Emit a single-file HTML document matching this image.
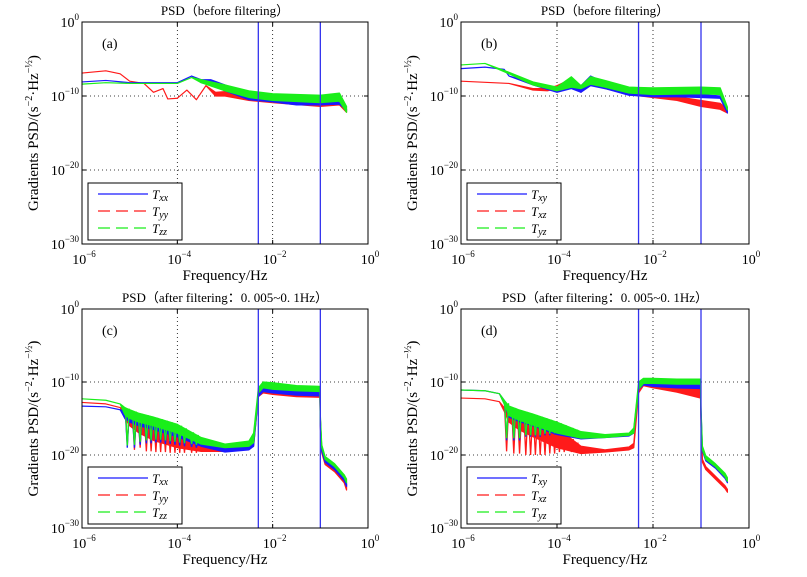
<!DOCTYPE html>
<html><head><meta charset="utf-8"><style>
html,body{margin:0;padding:0;background:#fff;}
svg{display:block;font-family:"Liberation Serif",serif;}
</style></head><body>
<svg id="fig" width="807" height="577" viewBox="0 0 807 577" xmlns="http://www.w3.org/2000/svg"></svg>
<script>
// ---- data: log10(frequency) and log10(PSD) lower/upper envelopes ----
const aBlueF=[-6,-5.5,-5,-4.5,-4,-3.7,-3.5,-3.3,-3,-2.5,-2,-1.5,-1,-0.6,-0.45];
const aBlueLo=[-8.1,-7.9,-8.2,-8.2,-8.2,-7.3,-8.2,-8.5,-9.3,-10.5,-10.8,-11.2,-11.2,-11.1,-11.9];
const aBlueHi=[-8.1,-7.9,-8.2,-8.2,-8.2,-7.3,-7.8,-7.8,-8.5,-9.8,-10.3,-10.8,-10.8,-10.8,-11.8];
const aRedF=[-6,-5.5,-5.2,-5,-4.7,-4.5,-4.3,-4.2,-4,-3.8,-3.6,-3.4,-3.2,-3,-2.5,-2,-1,-0.6,-0.45];
const aRedLo=[-6.9,-6.6,-7,-8,-8.3,-9.5,-9,-10.4,-10.3,-9.2,-10.5,-8.6,-10,-10,-10.6,-10.9,-11.4,-11.2,-12.2];
const aRedHi=[-6.9,-6.6,-7,-8,-8.3,-9.5,-9,-10.4,-10.3,-9.2,-10.5,-8.6,-9.5,-9.4,-10.1,-10.4,-10.9,-10.8,-11.9];
const aGreenF=[-6,-5.5,-5,-4,-3.7,-3.5,-3,-2.5,-2,-1,-0.6,-0.45];
const aGreenLo=[-8.4,-8.2,-8.3,-8.3,-7.5,-8.2,-9.3,-10.2,-10.6,-10.9,-10.7,-12.2];
const aGreenHi=[-8.4,-8.2,-8.3,-8.3,-7.5,-7.8,-8.5,-9.3,-9.7,-9.9,-9.6,-11.4];

const bBlueF=[-6,-5.5,-5.1,-5,-4.5,-4,-3.7,-3.5,-3.3,-3,-2.5,-2,-1.5,-1,-0.6,-0.45];
const bBlueLo=[-6.3,-6.1,-6.4,-7.3,-8.5,-9.5,-9,-9.5,-8.6,-9,-9.9,-10.1,-10.1,-10.2,-10.3,-12.3];
const bBlueHi=[-6.3,-6.1,-6.4,-7.3,-8.2,-9,-8.4,-8.6,-7.3,-8.2,-9.6,-9.8,-9.7,-9.8,-10,-11.9];
const bRedF=[-6,-5,-4.5,-4.2,-4,-3.7,-3.5,-3.3,-3,-2.5,-2,-1.5,-1,-0.6,-0.45];
const bRedLo=[-8,-8.3,-9.2,-9.3,-9,-8,-9.5,-8,-9,-9.8,-10.2,-10.6,-11.4,-11.8,-12.3];
const bRedHi=[-8,-8.3,-9,-9,-8.6,-7.7,-9,-7.6,-8.6,-9.5,-10,-10.1,-10.6,-11,-11.8];
const bGreenF=[-6,-5.5,-5,-4.5,-4,-3.7,-3.5,-3.3,-3,-2.5,-2,-1,-0.6,-0.45];
const bGreenLo=[-5.8,-5.6,-7,-8.5,-9.3,-8.8,-9,-8.4,-8.8,-9.6,-9.8,-9.7,-9.8,-11.9];
const bGreenHi=[-5.8,-5.6,-6.8,-8.1,-8.8,-7.4,-8.6,-7.4,-7.9,-8.8,-8.9,-8.8,-8.9,-11.5];

const cF=[-6,-5.5,-5.2,-5.1,-5,-4.8,-4.5,-4,-3.5,-3,-2.5,-2.4,-2.3,-2.2,-2,-1.5,-1.01,-1,-0.97,-0.9,-0.7,-0.5,-0.45];
const cBlueLo=[-13.3,-13.4,-13.8,-15,-15.5,-16,-16.5,-17.5,-18.8,-19.6,-19.3,-18.8,-12,-11.3,-11.5,-11.8,-11.9,-16,-19.5,-21,-22,-23.5,-24.3];
const cBlueHi=[-13.3,-13.4,-13.8,-14,-14.5,-15,-15.5,-16.5,-18.3,-18.8,-18.5,-17.5,-11.5,-10.8,-10.8,-11.2,-11.3,-15,-19,-20.5,-21.6,-23.1,-23.8];
const cRedLo=[-12.8,-13,-13.5,-15,-16,-17,-18,-19,-19.5,-19.5,-19.2,-18.8,-12,-11.5,-11.7,-12,-12.1,-16,-19.7,-21.3,-22.3,-23.8,-24.8];
const cRedHi=[-12.8,-13,-13.5,-13.8,-14.2,-14.7,-15.3,-16.3,-18,-18.8,-18.4,-17.5,-11.3,-10.6,-10.7,-11,-11.1,-15,-19.2,-20.8,-21.8,-23.3,-24];
const cGreenLo=[-12.3,-12.5,-13,-14.5,-15,-15.5,-16,-17,-18.5,-19,-18.8,-18.3,-11.5,-10.8,-11,-11.2,-11.3,-15.5,-19,-20.6,-21.6,-23.1,-23.8];
const cGreenHi=[-12.3,-12.5,-13,-13.5,-13.8,-14.3,-14.8,-15.8,-17.6,-18.5,-18.1,-17,-10.8,-10,-10.1,-10.5,-10.6,-14.5,-18.6,-20.2,-21.2,-22.7,-23.3];
const cDipF=[-5.05,-4.9,-4.78,-4.65,-4.55,-4.45,-4.35,-4.25,-4.15,-4.05,-3.95,-3.85,-3.7,-3.6];
const cDipBlue=[-19,-19,-18.6,-18.4,-18.4,-18.3,-18.3,-18.5,-18.5,-18.6,-18.7,-18.8,-18.9,-19];
const cDipRed=[-18.5,-19.3,-19,-19.5,-19.5,-19.6,-19.6,-19.6,-19.7,-19.7,-19.7,-19.7,-19.7,-19.7];
const cDipGreen=[-18.7,-18.6,-18.2,-18,-18,-17.9,-17.9,-18,-18.1,-18.2,-18.3,-18.4,-18.5,-18.6];

const dF=[-6,-5.5,-5.2,-5.1,-5,-4.8,-4.5,-4,-3.5,-3,-2.5,-2.4,-2.3,-2.2,-2,-1.5,-1.01,-1,-0.97,-0.9,-0.7,-0.5,-0.45];
const dBlueLo=[-11.1,-11.2,-11.6,-13,-14.8,-15.4,-16,-17.2,-17.8,-17.6,-17.4,-17,-11,-10.4,-10.6,-10.8,-10.9,-15,-19.5,-20.8,-21.8,-23.2,-23.8];
const dBlueHi=[-11.1,-11.2,-11.6,-12.5,-13.5,-14,-14.6,-15.8,-17,-17.3,-17.1,-16.5,-10.5,-10,-10.1,-10.2,-10.2,-14,-19,-20.3,-21.4,-22.8,-23.4];
const dRedLo=[-12.2,-12.3,-12.7,-14,-15.5,-16.5,-17.5,-19,-19.8,-19.6,-19.3,-19,-11.5,-10.5,-10.8,-11.4,-12.2,-16,-21,-22,-23.3,-24.6,-25.1];
const dRedHi=[-12.2,-12.3,-12.7,-13.5,-14,-14.5,-15,-16.3,-18.8,-19.3,-18.9,-18.4,-11,-10.2,-10.3,-10.6,-11,-15,-20.6,-21.6,-22.9,-24.2,-24.7];
const dGreenLo=[-11.1,-11.2,-11.6,-13,-14.6,-15.2,-15.9,-17,-17.7,-17.6,-17.3,-17,-11,-10.2,-10.2,-10.3,-10.3,-14.5,-19.3,-20.6,-21.6,-23,-23.6];
const dGreenHi=[-11.1,-11.2,-11.6,-12.5,-13.3,-13.8,-14.4,-15.5,-16.8,-17.2,-17,-16.3,-10,-9.5,-9.5,-9.6,-9.6,-13.5,-18.8,-20.1,-21.2,-22.5,-23.1];
const dDipF=[-5.05,-4.9,-4.78,-4.65,-4.55,-4.45,-4.35,-4.25,-4.15,-4.05,-3.95,-3.85,-3.7,-3.6];
const dDipBlue=[-18,-18,-18,-17.5,-17.5,-17.5,-17.5,-17.3,-17.3,-17.2,-17,-17,-17,-17];
const dDipRed=[-19.5,-19.8,-19.8,-20,-20,-20,-20,-20,-19.8,-19.8,-19.6,-19.6,-19.6,-19.5];
const dDipGreen=[-17.7,-17.7,-17.7,-17.3,-17.3,-17.3,-17.3,-17.1,-17.1,-17,-16.9,-16.9,-16.9,-16.9];

const vLines=[Math.log10(0.005),Math.log10(0.1)];
const xTicks=[-6,-4,-2,0];
const yTicks=[0,-10,-20,-30];

const NS="http://www.w3.org/2000/svg";
const fig=document.getElementById('fig');
function mk(tag,attrs,parent){const e=document.createElementNS(NS,tag);for(const k in attrs)e.setAttribute(k,attrs[k]);(parent||fig).appendChild(e);return e;}
function interp(f,v,x){for(let k=0;k<f.length-1;k++){if(x>=f[k]&&x<=f[k+1]){const t=(x-f[k])/(f[k+1]-f[k]);return v[k]+t*(v[k+1]-v[k]);}}return v[v.length-1];}

const panels=[
 {id:'a',x:82,y:22,w:286,h:222,title:'PSD（before filtering）',names:['xx','yy','zz'],
  s:[[aBlueF,aBlueLo,aBlueHi],[aRedF,aRedLo,aRedHi],[aGreenF,aGreenLo,aGreenHi]]},
 {id:'b',x:461,y:22,w:288,h:222,title:'PSD（before filtering）',names:['xy','xz','yz'],
  s:[[bBlueF,bBlueLo,bBlueHi],[bRedF,bRedLo,bRedHi],[bGreenF,bGreenLo,bGreenHi]]},
 {id:'c',x:82,y:309,w:286,h:219,title:'PSD（after filtering：0. 005~0. 1Hz）',names:['xx','yy','zz'],
  s:[[cF,cBlueLo,cBlueHi],[cF,cRedLo,cRedHi],[cF,cGreenLo,cGreenHi]],dipF:cDipF,dips:[cDipBlue,cDipRed,cDipGreen]},
 {id:'d',x:461,y:309,w:288,h:219,title:'PSD（after filtering：0. 005~0. 1Hz）',names:['xy','xz','yz'],
  s:[[dF,dBlueLo,dBlueHi],[dF,dRedLo,dRedHi],[dF,dGreenLo,dGreenHi]],dipF:dDipF,dips:[dDipBlue,dDipRed,dDipGreen]}
];
const cols=['#1a1aff','#ff1a1a','#1aee1a'];
const drawOrder=[1,0,2];

panels.forEach(p=>{
 const g=mk('g',{});
 
 
 const X=v=>p.x+(v+6)/6*p.w;
 const Y=v=>p.y+(-v)/30*p.h;
 const cx=p.x+p.w/2;
 const t=mk('text',{x:cx,y:p.y-7,'text-anchor':'middle','font-size':13},g);t.textContent=p.title;
 
 [-4,-2].forEach(v=>{const l=mk('line',{x1:X(v),x2:X(v),y1:p.y,y2:p.y+p.h,stroke:'#000','stroke-width':0.8,'stroke-dasharray':'1,3'},g);
  });
 [-10,-20].forEach(v=>{const l=mk('line',{x1:p.x,x2:p.x+p.w,y1:Y(v),y2:Y(v),stroke:'#000','stroke-width':0.8,'stroke-dasharray':'1,3'},g);
  });
 drawOrder.forEach(i=>{
  const [f,lo,hi]=p.s[i];
  let pts=f.map((v,k)=>X(v)+','+Y(hi[k]));
  for(let k=f.length-1;k>=0;k--)pts.push(X(f[k])+','+Y(lo[k]));
  const poly=mk('polygon',{points:pts.join(' '),fill:cols[i],stroke:cols[i],'stroke-width':1.2,'stroke-linejoin':'round'},g);
  
  if(p.dips){
   p.dipF.forEach((df,k)=>{
    const top=interp(f,hi,df);
    const dl=mk('polyline',{points:X(df-0.04)+','+Y(top)+' '+X(df)+','+Y(p.dips[i][k])+' '+X(df+0.04)+','+Y(top),fill:'none',stroke:cols[i],'stroke-width':1.3},g);
    
   });
  }
 });
 vLines.forEach(v=>{const l=mk('line',{x1:X(v),x2:X(v),y1:p.y,y2:p.y+p.h,stroke:'#3333ee','stroke-width':1.3},g);
  });
 const r=mk('rect',{x:p.x,y:p.y,width:p.w,height:p.h,fill:'none',stroke:'#000','stroke-width':1},g);
 
 xTicks.forEach(v=>{
  mk('line',{x1:X(v),x2:X(v),y1:p.y+p.h,y2:p.y+p.h-4,stroke:'#000'},g);
  mk('line',{x1:X(v),x2:X(v),y1:p.y,y2:p.y+4,stroke:'#000'},g);
  const tx=mk('text',{x:X(v)+2,y:p.y+p.h+20,'text-anchor':'middle','font-size':14},g);
  
  tx.innerHTML='10<tspan dy="-7" font-size="9">'+(v===0?'0':'−'+(-v))+'</tspan>';
 });
 yTicks.forEach(v=>{
  mk('line',{x1:p.x,x2:p.x+4,y1:Y(v),y2:Y(v),stroke:'#000'},g);
  mk('line',{x1:p.x+p.w,x2:p.x+p.w-4,y1:Y(v),y2:Y(v),stroke:'#000'},g);
  const ty=mk('text',{x:p.x-3,y:Y(v)+5,'text-anchor':'end','font-size':14},g);
  
  ty.innerHTML='10<tspan dy="-7" font-size="9">'+(v===0?'0':'−'+(-v))+'</tspan>';
 });
 const xt=mk('text',{x:cx,y:p.y+p.h+36,'text-anchor':'middle','font-size':15},g);
 
 xt.textContent='Frequency/Hz';
 const yx=p.x-44, yy=p.y+p.h/2;
 const yt=mk('text',{x:yx,y:yy,'text-anchor':'middle','font-size':15,transform:'rotate(-90 '+yx+' '+yy+')'},g);
 
 yt.innerHTML='Gradients PSD/(s<tspan dy="-6" font-size="10">−2</tspan><tspan dy="6">·Hz</tspan><tspan dy="-6" font-size="10">−½</tspan><tspan dy="6">)</tspan>';
 const pl=mk('text',{x:p.x+20,y:p.y+26,'font-size':14},g);
 
 pl.textContent='('+p.id+')';
 const lx=p.x+6, ly=p.y+p.h-61;
 const lg=mk('g',{},g);
 
 mk('rect',{x:lx,y:ly,width:94,height:57,fill:'#fff',stroke:'#000','stroke-width':1},lg);
 [0,1,2].forEach(i=>{
  const ey=ly+11+i*17;
  const e=mk('g',{},lg);
  
  mk('line',{x1:lx+10,x2:lx+60,y1:ey,y2:ey,stroke:cols[i],'stroke-width':1.3,'stroke-dasharray':i===0?'none':'12,6'},e);
  const et=mk('text',{x:lx+64,y:ey+5,'font-size':13,'font-style':'italic'},e);
  et.innerHTML='T<tspan font-size="10" dy="2">'+p.names[i]+'</tspan>';
 });
});
</script>
</body></html>
